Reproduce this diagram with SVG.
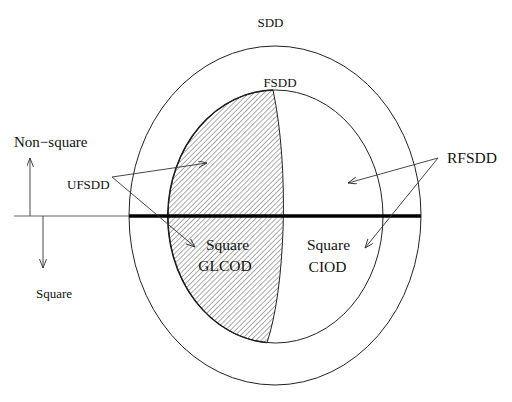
<svg xmlns="http://www.w3.org/2000/svg" width="512" height="402" viewBox="0 0 512 402">
  <style>
    text { font-family: "Liberation Serif", "Times New Roman", serif; font-size: 13px; fill: #111; }
    text.big { font-size: 15.5px; }
    .ring { fill: none; stroke: #222; stroke-width: 1; }
    .conn { fill: none; stroke: #333; stroke-width: 0.9; }
  </style>
  <defs>
    <pattern id="hatch" width="3.6" height="3.6" patternUnits="userSpaceOnUse" patternTransform="rotate(45)">
      <line x1="0" y1="0" x2="0" y2="3.6" stroke="#444" stroke-width="0.9"/>
    </pattern>
    <marker id="arr" markerWidth="10" markerHeight="8" refX="9" refY="3.5" orient="auto" markerUnits="userSpaceOnUse">
      <path d="M0,0 L9,3.5 L0,7" fill="none" stroke="#333" stroke-width="0.9"/>
    </marker>
  </defs>
  <rect width="512" height="402" fill="#fff"/>

  <g id="sdd">
    <ellipse class="ring" cx="275" cy="215.5" rx="146" ry="169.5"/>
    <text x="270.5" y="27" text-anchor="middle">SDD</text>
  </g>

  <g id="ufsdd-region">
    <path d="M273,90 A107.5 126.5 0 0 0 267,342.6 C285,290 290,170 273,90 Z" fill="url(#hatch)" stroke="none"/>
    <path d="M273,90 A107.5 126.5 0 0 0 267,342.6" fill="none" stroke="#111" stroke-width="1.4"/>
    <path d="M267,342.6 C285,290 290,170 273,90" fill="none" stroke="#222" stroke-width="1"/>
  </g>

  <g id="fsdd">
    <ellipse class="ring" cx="275.5" cy="216.5" rx="107.5" ry="126.5"/>
    <text x="280" y="87" text-anchor="middle">FSDD</text>
  </g>

  <g id="axis">
    <line x1="14" y1="216" x2="129" y2="216" stroke="#666" stroke-width="1"/>
    <line x1="129" y1="216" x2="421" y2="216" stroke="#000" stroke-width="3.5"/>
  </g>

  <g id="non-square">
    <text x="14" y="147" style="font-size:15px">Non−square</text>
  </g>
  <g id="square">
    <text x="36" y="298">Square</text>
  </g>
  <g id="ufsdd">
    <text x="67" y="189">UFSDD</text>
  </g>
  <g id="rfsdd">
    <text class="big" x="447" y="163">RFSDD</text>
  </g>
  <g id="glcod">
    <text class="big" x="227.5" y="250" text-anchor="middle">Square</text>
    <text class="big" x="225" y="271" text-anchor="middle">GLCOD</text>
  </g>
  <g id="ciod">
    <text class="big" x="328.5" y="250" text-anchor="middle">Square</text>
    <text class="big" x="327.5" y="272" text-anchor="middle">CIOD</text>
  </g>

  <g id="connectors">
    <line class="conn" x1="30" y1="216" x2="30" y2="158" marker-end="url(#arr)"/>
    <line class="conn" x1="43" y1="216" x2="43" y2="268" marker-end="url(#arr)"/>
    <line class="conn" x1="112" y1="177" x2="207" y2="163" marker-end="url(#arr)"/>
    <line class="conn" x1="112" y1="177" x2="195" y2="247" marker-end="url(#arr)"/>
    <line class="conn" x1="438" y1="158" x2="348" y2="183" marker-end="url(#arr)"/>
    <line class="conn" x1="438" y1="158" x2="365" y2="248" marker-end="url(#arr)"/>
  </g>
</svg>
